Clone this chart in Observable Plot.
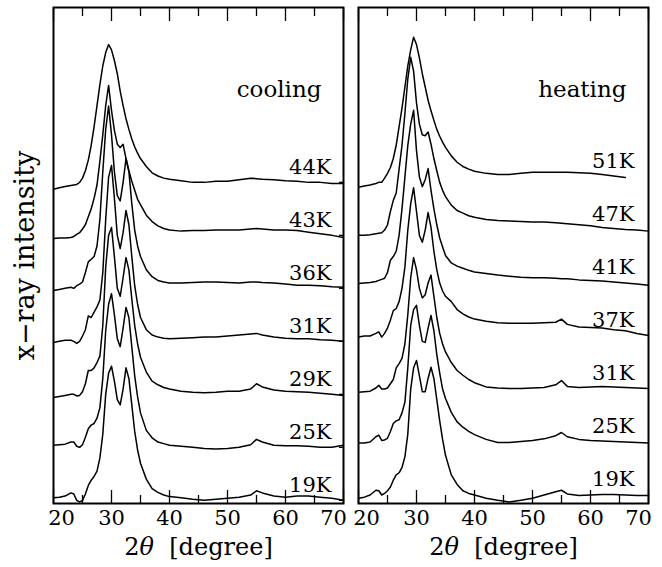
<!DOCTYPE html>
<html><head><meta charset="utf-8">
<script src="https://cdn.jsdelivr.net/npm/d3@7"></script>
<script src="https://cdn.jsdelivr.net/npm/@observablehq/plot@0.6"></script>
<style>body{margin:0;background:#fff}svg{display:block}</style>
</head><body><div id="chart"></div>
<script>
// shared 2θ grid (degrees)
const twoTheta = [20,21,22,23,23.5,24,24.5,25,25.5,26,26.5,27,27.5,28,28.5,29,29.5,30,30.5,31,31.5,32,32.5,33,33.5,34,34.5,35,36,37,38,39,40,42,44,46,48,50,52,54,55,56,58,60,62,64,66,68,70];
const panels = ["cooling","heating"];
const coolingTemps = ["19K","25K","29K","31K","36K","43K","44K"];
const heatingTemps = ["19K","25K","31K","37K","41K","47K","51K"];
const stackOffsets = [0,1,2,3,4,5,6];
const majorTicks = [20,30,40,50,60,70];
const minorTicks = [25,35,45,55,65];
const innerTickLabels = [30,40,50,60];
const firstTickLabel = [20];
const lastTickLabel = [70];
const yTicks = [0,1,2,3,4,5,6];

// cooling intensities (arb. units, relative to each curve's offset)
const cool19 = [0.05,0.06,0.08,0.14,0.12, 0.0,-0.03,0.0,0.12,0.28, 0.38,0.45,0.55,0.8,1.25, 2.0,2.4,2.53,2.25,1.9, 1.8,2.1,2.5,2.3,1.8, 1.3,0.95,0.7,0.4,0.22, 0.15,0.1,0.07,0.05,0.02, 0.0,0.02,0.04,0.06,0.1, 0.18,0.14,0.08,0.06,0.08, 0.08,0.06,0.04,0.0];
const cool25 = [0.04,0.05,0.06,0.1,0.1, 0.02,0.0,0.05,0.19,0.35, 0.42,0.45,0.55,0.75,1.3, 2.2,2.7,2.9,2.5,2.05, 1.9,2.25,2.64,2.45,1.9, 1.35,0.95,0.65,0.32,0.18, 0.1,0.07,0.04,0.02,0.0, -0.02,-0.03,-0.02,0.0,0.05, 0.15,0.1,0.04,0.03,0.03, 0.02,0.0,0.0,0.04];
const cool29 = [-0.06,-0.04,-0.02,0.0,0.0, -0.03,-0.02,0.05,0.2,0.45, 0.45,0.5,0.6,0.72,1.3, 2.4,3.0,3.15,2.6,2.0, 1.85,2.2,2.58,2.35,1.8, 1.3,0.95,0.7,0.42,0.25, 0.18,0.13,0.1,0.06,0.04, 0.03,0.04,0.06,0.06,0.1, 0.2,0.14,0.08,0.06,0.05, 0.04,0.02,0.0,-0.02];
const cool31 = [-0.02,0.0,0.02,0.02,0.0, -0.04,0.0,0.1,0.22,0.48, 0.45,0.55,0.65,0.78,1.3, 2.3,3.1,3.32,2.7,2.0, 1.75,2.05,2.47,2.2,1.6, 1.05,0.7,0.45,0.22,0.12, 0.08,0.06,0.05,0.06,0.07, 0.08,0.08,0.1,0.12,0.14, 0.15,0.12,0.08,0.06,0.05, 0.05,0.03,0.02,0.0];
const cool36 = [-0.04,-0.02,0.0,0.02,0.0, 0.05,0.08,0.12,0.3,0.5, 0.55,0.6,0.8,1.3,2.2, 3.0,3.44,2.9,2.2,1.75, 1.65,2.0,2.45,2.2,1.6, 1.1,0.8,0.6,0.35,0.22, 0.15,0.12,0.1,0.1,0.11, 0.12,0.12,0.11,0.1,0.12, 0.12,0.11,0.1,0.08,0.06, 0.06,0.05,0.03,0.02];
const cool43 = [-0.06,-0.05,-0.05,-0.04,-0.02, 0.02,0.05,0.12,0.2,0.35, 0.5,0.7,0.95,1.4,1.9, 2.45,2.83,2.36,1.98,1.72, 1.66,1.72,1.45,1.22,1.02, 0.85,0.68,0.58,0.38,0.26, 0.18,0.13,0.1,0.08,0.09, 0.09,0.1,0.1,0.1,0.12, 0.13,0.12,0.1,0.1,0.09, 0.06,0.03,0.0,-0.04];
const cool44 = [-0.13,-0.1,-0.08,-0.06,-0.05, -0.04,0.0,0.08,0.22,0.42, 0.7,1.05,1.45,1.85,2.2, 2.45,2.6,2.5,2.3,2.05, 1.72,1.45,1.2,1.0,0.82, 0.67,0.55,0.45,0.3,0.18, 0.12,0.08,0.06,0.03,0.0, 0.0,0.02,0.02,0.05,0.08, 0.07,0.06,0.05,0.03,0.02, 0.0,0.0,-0.02,-0.02];

// heating intensities
const heat19 = [0.04,0.06,0.1,0.19,0.18, 0.1,0.13,0.18,0.25,0.38, 0.48,0.52,0.62,0.82,1.25, 2.1,2.5,2.64,2.35,2.05, 2.05,2.3,2.51,2.3,1.9, 1.5,1.15,0.85,0.48,0.3, 0.18,0.13,0.1,0.04,0.0, -0.03,0.0,0.04,0.1,0.16, 0.19,0.12,0.09,0.1,0.11, 0.11,0.1,0.09,0.09];
const heat25 = [0.08,0.08,0.1,0.2,0.23, 0.13,0.14,0.17,0.3,0.45, 0.5,0.52,0.65,0.85,1.5, 2.3,2.6,2.68,2.3,2.0, 1.98,2.25,2.49,2.2,1.75, 1.4,1.1,0.92,0.66,0.48, 0.38,0.3,0.24,0.15,0.09, 0.09,0.11,0.13,0.16,0.22, 0.28,0.2,0.15,0.13,0.12, 0.11,0.1,0.09,0.08];
const heat31 = [0.04,0.05,0.06,0.12,0.17, 0.1,0.1,0.12,0.2,0.28, 0.5,0.58,0.68,0.95,1.5, 2.2,2.58,2.35,2.0,1.82, 1.88,2.1,2.25,1.85,1.45, 1.15,0.95,0.8,0.6,0.45, 0.36,0.28,0.22,0.14,0.12, 0.11,0.11,0.12,0.13,0.18, 0.26,0.15,0.13,0.14,0.15, 0.14,0.13,0.12,0.11];
const heat37 = [0.08,0.1,0.1,0.15,0.18, 0.08,0.15,0.25,0.4,0.58, 0.62,0.75,1.0,1.4,2.1, 2.6,2.9,2.45,2.0,1.87, 2.1,2.43,2.15,1.7,1.35, 1.1,0.95,0.85,0.75,0.6, 0.52,0.46,0.42,0.38,0.35, 0.34,0.34,0.34,0.35,0.36, 0.42,0.32,0.27,0.26,0.25, 0.22,0.2,0.15,0.11];
const heat41 = [0.09,0.1,0.11,0.13,0.15, 0.17,0.19,0.3,0.53,0.6, 0.7,1.0,1.5,2.1,2.7, 3.1,3.36,2.6,2.1,1.92, 2.05,2.26,1.85,1.5,1.2, 0.95,0.78,0.62,0.48,0.42, 0.38,0.34,0.31,0.28,0.25, 0.23,0.21,0.2,0.2,0.19, 0.18,0.18,0.16,0.15,0.14, 0.12,0.1,0.08,0.06];
const heat47 = [0.0,0.0,0.01,0.03,0.04, 0.05,0.1,0.2,0.45,0.66, 0.8,1.25,1.7,2.3,2.95, 3.36,3.1,2.5,2.1,1.9, 1.88,1.95,1.72,1.45,1.22, 1.0,0.85,0.73,0.57,0.47, 0.42,0.37,0.34,0.3,0.28, 0.27,0.26,0.25,0.25,0.24, 0.23,0.22,0.2,0.18,0.15, 0.13,0.11,0.1,0.08];
const heat51 = [-0.09,-0.07,-0.05,-0.02,0.0, 0.0,0.08,0.17,0.28,0.45, 0.7,1.05,1.4,1.8,2.2, 2.5,2.74,2.6,2.35,2.05, 1.8,1.55,1.35,1.17,1.0, 0.87,0.76,0.66,0.5,0.38, 0.3,0.25,0.21,0.17,0.15, 0.15,0.17,0.19,0.19,0.19, 0.19,0.19,0.18,0.17,0.15, 0.12,0.09,null,null];

const coolingSeries = [cool19,cool25,cool29,cool31,cool36,cool43,cool44];
const heatingSeries = [heat19,heat25,heat31,heat37,heat41,heat47,heat51];

// build tables
const curves = [];
const labels = [];
[["cooling", coolingTemps, coolingSeries], ["heating", heatingTemps, heatingSeries]].forEach(([panel, temps, series]) => {
  series.forEach((vals, k) => {
    labels.push({panel, label: temps[k], offset: stackOffsets[k]});
    twoTheta.forEach((x, i) => {
      const v = vals[i];
      curves.push({panel, label: temps[k], x, y: v == null ? NaN : stackOffsets[k] + v});
    });
  });
});

const font = "DejaVu Serif";
const tickText = {x: d => d, text: d => String(d), frameAnchor: "bottom", dy: 7, lineAnchor: "top", fontSize: 21, fontFamily: font, fill: "black"};
const chart = Plot.plot({
  width: 662, height: 567,
  marginTop: 7, marginBottom: 64, marginLeft: 52, marginRight: 13,
  fx: {domain: panels, paddingInner: 0.049, paddingOuter: 0, axis: null, label: null},
  x: {domain: [20, 70], label: null},
  y: {domain: [-0.06, 9.3], axis: null, label: null},
  style: {fontFamily: font, color: "black", background: "white", overflow: "visible"},
  marks: [
    Plot.axisX({anchor: "bottom", ticks: majorTicks, tickSize: -13, tickFormat: () => "", strokeWidth: 1.3, label: null}),
    Plot.axisX({anchor: "bottom", ticks: minorTicks, tickSize: -8, tickFormat: () => "", strokeWidth: 1.3, label: null}),
    Plot.axisX({anchor: "top", ticks: majorTicks, tickSize: -13, tickFormat: () => "", strokeWidth: 1.3, label: null}),
    Plot.axisX({anchor: "top", ticks: minorTicks, tickSize: -8, tickFormat: () => "", strokeWidth: 1.3, label: null}),
    Plot.axisY({anchor: "right", facetAnchor: "left-empty", ticks: yTicks, tickSize: -5, tickFormat: () => "", strokeWidth: 1.3, label: null}),
    Plot.text(innerTickLabels, {...tickText}),
    Plot.text(firstTickLabel, {...tickText, dx: 8}),
    Plot.text(lastTickLabel, {...tickText, dx: -10}),
    Plot.line(curves, {x: "x", y: "y", z: "label", fx: "panel", stroke: "black", strokeWidth: 1.5, strokeLinejoin: "round"}),
    Plot.text(labels.filter(d => d.panel === "cooling"), {fx: "panel", y: "offset", text: "label", frameAnchor: "right", dx: -12, dy: -8, textAnchor: "end", lineAnchor: "bottom", fontSize: 21, fill: "black"}),
    Plot.text(labels.filter(d => d.panel === "heating"), {fx: "panel", y: "offset", text: "label", frameAnchor: "right", dx: -14, dy: -14, textAnchor: "end", lineAnchor: "bottom", fontSize: 21, fill: "black"}),
    Plot.text(panels, {fx: d => d, text: d => d, frameAnchor: "top-right", dx: -22, dy: 89, textAnchor: "end", lineAnchor: "bottom", fontSize: 23, fill: "black"}),
    Plot.text(panels, {fx: d => d, text: () => "2θ [degree]", frameAnchor: "bottom", dy: 51, lineAnchor: "bottom", fontSize: 24, fill: "black"}),
    Plot.text([panels[0]], {fx: d => d, text: () => "x−ray intensity", frameAnchor: "left", textAnchor: "middle", lineAnchor: "middle", dx: -28, rotate: -90, fontSize: 27, fill: "black"}),
    Plot.frame({stroke: "black", strokeWidth: 2})
  ]
});

// italic theta in the axis titles
d3.select(chart).selectAll("text").each(function() {
  if (this.textContent === "2θ [degree]") {
    const t = d3.select(this);
    t.text(null);
    t.append("tspan").text("2");
    t.append("tspan").attr("font-style", "italic").text("θ");
    t.append("tspan").text("\u00a0\u00a0[degree]");
  }
});

document.getElementById("chart").appendChild(chart);
</script>
</body></html>
